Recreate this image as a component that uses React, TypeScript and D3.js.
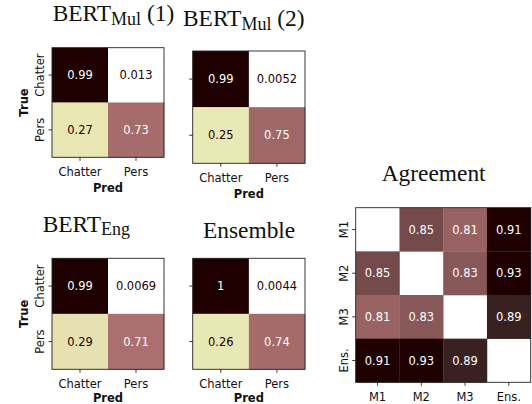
import React from "react";
import * as d3 from "d3";

// confusion matrices (rows = true, cols = pred)
const classLabels = ["Chatter", "Pers"];
const bertMul1 = [
  [0.99, 0.013],
  [0.27, 0.73],
];
const bertMul2 = [
  [0.99, 0.0052],
  [0.25, 0.75],
];
const bertEng = [
  [0.99, 0.0069],
  [0.29, 0.71],
];
const ensemble = [
  [1, 0.0044],
  [0.26, 0.74],
];

// pairwise agreement between models (diagonal left empty)
const modelLabels = ["M1", "M2", "M3", "Ens."];
const agreement: (number | null)[][] = [
  [null, 0.85, 0.81, 0.91],
  [0.85, null, 0.83, 0.93],
  [0.81, 0.83, null, 0.89],
  [0.91, 0.93, 0.89, null],
];

const W = 532;
const H = 404;
const tickFont = "DejaVu Sans, Verdana, sans-serif";
const titleFont = "Liberation Serif, Times New Roman, serif";
const fs = 11.5;
const axisColor = "#222";

// matplotlib "pink" colormap, reversed
function pinkR(t: number) {
  const x = 1 - Math.max(0, Math.min(1, t));
  const a = 0.365079;
  const b = 0.746032;
  const hr = x < a ? 0.0416 + ((1 - 0.0416) * x) / a : 1;
  const hg = x < a ? 0 : x < b ? (x - a) / (b - a) : 1;
  const hb = x < b ? 0 : (x - b) / (1 - b);
  const c = (h: number) => Math.round(255 * Math.sqrt((2 * x + h) / 3));
  return d3.rgb(c(hr), c(hg), c(hb)).formatHex();
}

const fmt = d3.format(".2~g");

type Box = { x: number; y: number; w: number; h: number };

function Heatmap({
  data,
  labels,
  box,
  vmin,
  vmax,
  showY,
  axisTitles,
  allWhiteText,
}: {
  data: (number | null)[][];
  labels: string[];
  box: Box;
  vmin?: number;
  vmax?: number;
  showY: boolean;
  axisTitles: boolean;
  allWhiteText?: boolean;
}) {
  const flat = data.flat().filter((v) => v != null) as number[];
  const lo = vmin ?? (d3.min(flat) as number);
  const hi = vmax ?? (d3.max(flat) as number);
  const norm = d3.scaleLinear().domain([lo, hi]).range([0, 1]).clamp(true);
  const thresh = (lo + hi) / 2;

  const x = d3.scaleBand().domain(labels).range([box.x, box.x + box.w]);
  const y = d3.scaleBand().domain(labels).range([box.y, box.y + box.h]);
  const bottom = box.y + box.h;

  return (
    <g>
      {data.map((row, i) =>
        row.map((v, j) =>
          v == null ? null : (
            <g key={`${i}-${j}`}>
              <rect
                x={x(labels[j])}
                y={y(labels[i])}
                width={x.bandwidth() + 0.3}
                height={y.bandwidth() + 0.3}
                fill={pinkR(norm(v))}
              />
              <text
                x={(x(labels[j]) as number) + x.bandwidth() / 2}
                y={(y(labels[i]) as number) + y.bandwidth() / 2}
                dy="0.36em"
                textAnchor="middle"
                fontFamily={tickFont}
                fontSize={fs}
                fill={allWhiteText || v >= thresh ? "#ffffff" : pinkR(1)}
              >
                {fmt(v)}
              </text>
            </g>
          )
        )
      )}
      <rect
        x={box.x}
        y={box.y}
        width={box.w}
        height={box.h}
        fill="none"
        stroke={axisColor}
        strokeWidth={0.9}
      />
      {labels.map((l) => {
        const cx = (x(l) as number) + x.bandwidth() / 2;
        const cy = (y(l) as number) + y.bandwidth() / 2;
        return (
          <g key={l}>
            <line x1={cx} x2={cx} y1={bottom} y2={bottom + 3.5} stroke={axisColor} strokeWidth={0.9} />
            <text
              x={cx}
              y={bottom + 18.5}
              textAnchor="middle"
              fontFamily={tickFont}
              fontSize={fs}
              fill="#111"
            >
              {l}
            </text>
            <line x1={box.x - 3.5} x2={box.x} y1={cy} y2={cy} stroke={axisColor} strokeWidth={0.9} />
            {showY && (
              <text
                transform={`translate(${box.x - 8},${cy}) rotate(-90)`}
                textAnchor="middle"
                fontFamily={tickFont}
                fontSize={fs}
                fill="#111"
              >
                {l}
              </text>
            )}
          </g>
        );
      })}
      {axisTitles && (
        <text
          x={box.x + box.w / 2}
          y={Math.min(bottom + 34.5, 401.5)}
          textAnchor="middle"
          fontFamily={tickFont}
          fontSize={fs}
          fontWeight="bold"
          fill="#111"
        >
          Pred
        </text>
      )}
      {axisTitles && showY && (
        <text
          transform={`translate(${box.x - 24.5},${box.y + box.h / 2}) rotate(-90)`}
          textAnchor="middle"
          fontFamily={tickFont}
          fontSize={fs}
          fontWeight="bold"
          fill="#111"
        >
          True
        </text>
      )}
    </g>
  );
}

function Title({ x, y, main, sub, tail }: { x: number; y: number; main: string; sub?: string; tail?: string }) {
  return (
    <text x={x} y={y} fontFamily={titleFont} fontSize={23.4} fill="#111">
      {main}
      {sub && (
        <tspan fontSize={18} dy={3.5}>
          {sub}
        </tspan>
      )}
      {tail && (
        <tspan dy={sub ? -3.5 : 0}>{tail}</tspan>
      )}
    </text>
  );
}

export default function App() {
  return (
    <svg
      width={W}
      height={H}
      style={{ position: "absolute", left: 0, top: 0, background: "#fff" }}
    >
      <Title x={52.7} y={21} main="BERT" sub="Mul" tail={"\u00a0(1)"} />
      <Title x={183} y={26} main="BERT" sub="Mul" tail={"\u00a0(2)"} />
      <Title x={42.7} y={231.7} main="BERT" sub="Eng" />
      <Title x={203} y={238.4} main="Ensemble" />
      <Title x={381.7} y={181} main="Agreement" />

      <Heatmap data={bertMul1} labels={classLabels} box={{ x: 52, y: 47.7, w: 112, h: 109.6 }} showY axisTitles />
      <Heatmap data={bertMul2} labels={classLabels} box={{ x: 192.7, y: 51, w: 112.3, h: 112.3 }} showY={false} axisTitles />
      <Heatmap data={bertEng} labels={classLabels} box={{ x: 52, y: 258.3, w: 112, h: 111 }} showY axisTitles />
      <Heatmap data={ensemble} labels={classLabels} box={{ x: 192.7, y: 258.3, w: 112.3, h: 111 }} showY={false} axisTitles />
      <Heatmap
        data={agreement}
        labels={modelLabels}
        box={{ x: 355.7, y: 207.7, w: 175, h: 174.6 }}
        vmin={0.5}
        vmax={0.9}
        showY
        axisTitles={false}
        allWhiteText
      />
    </svg>
  );
}
